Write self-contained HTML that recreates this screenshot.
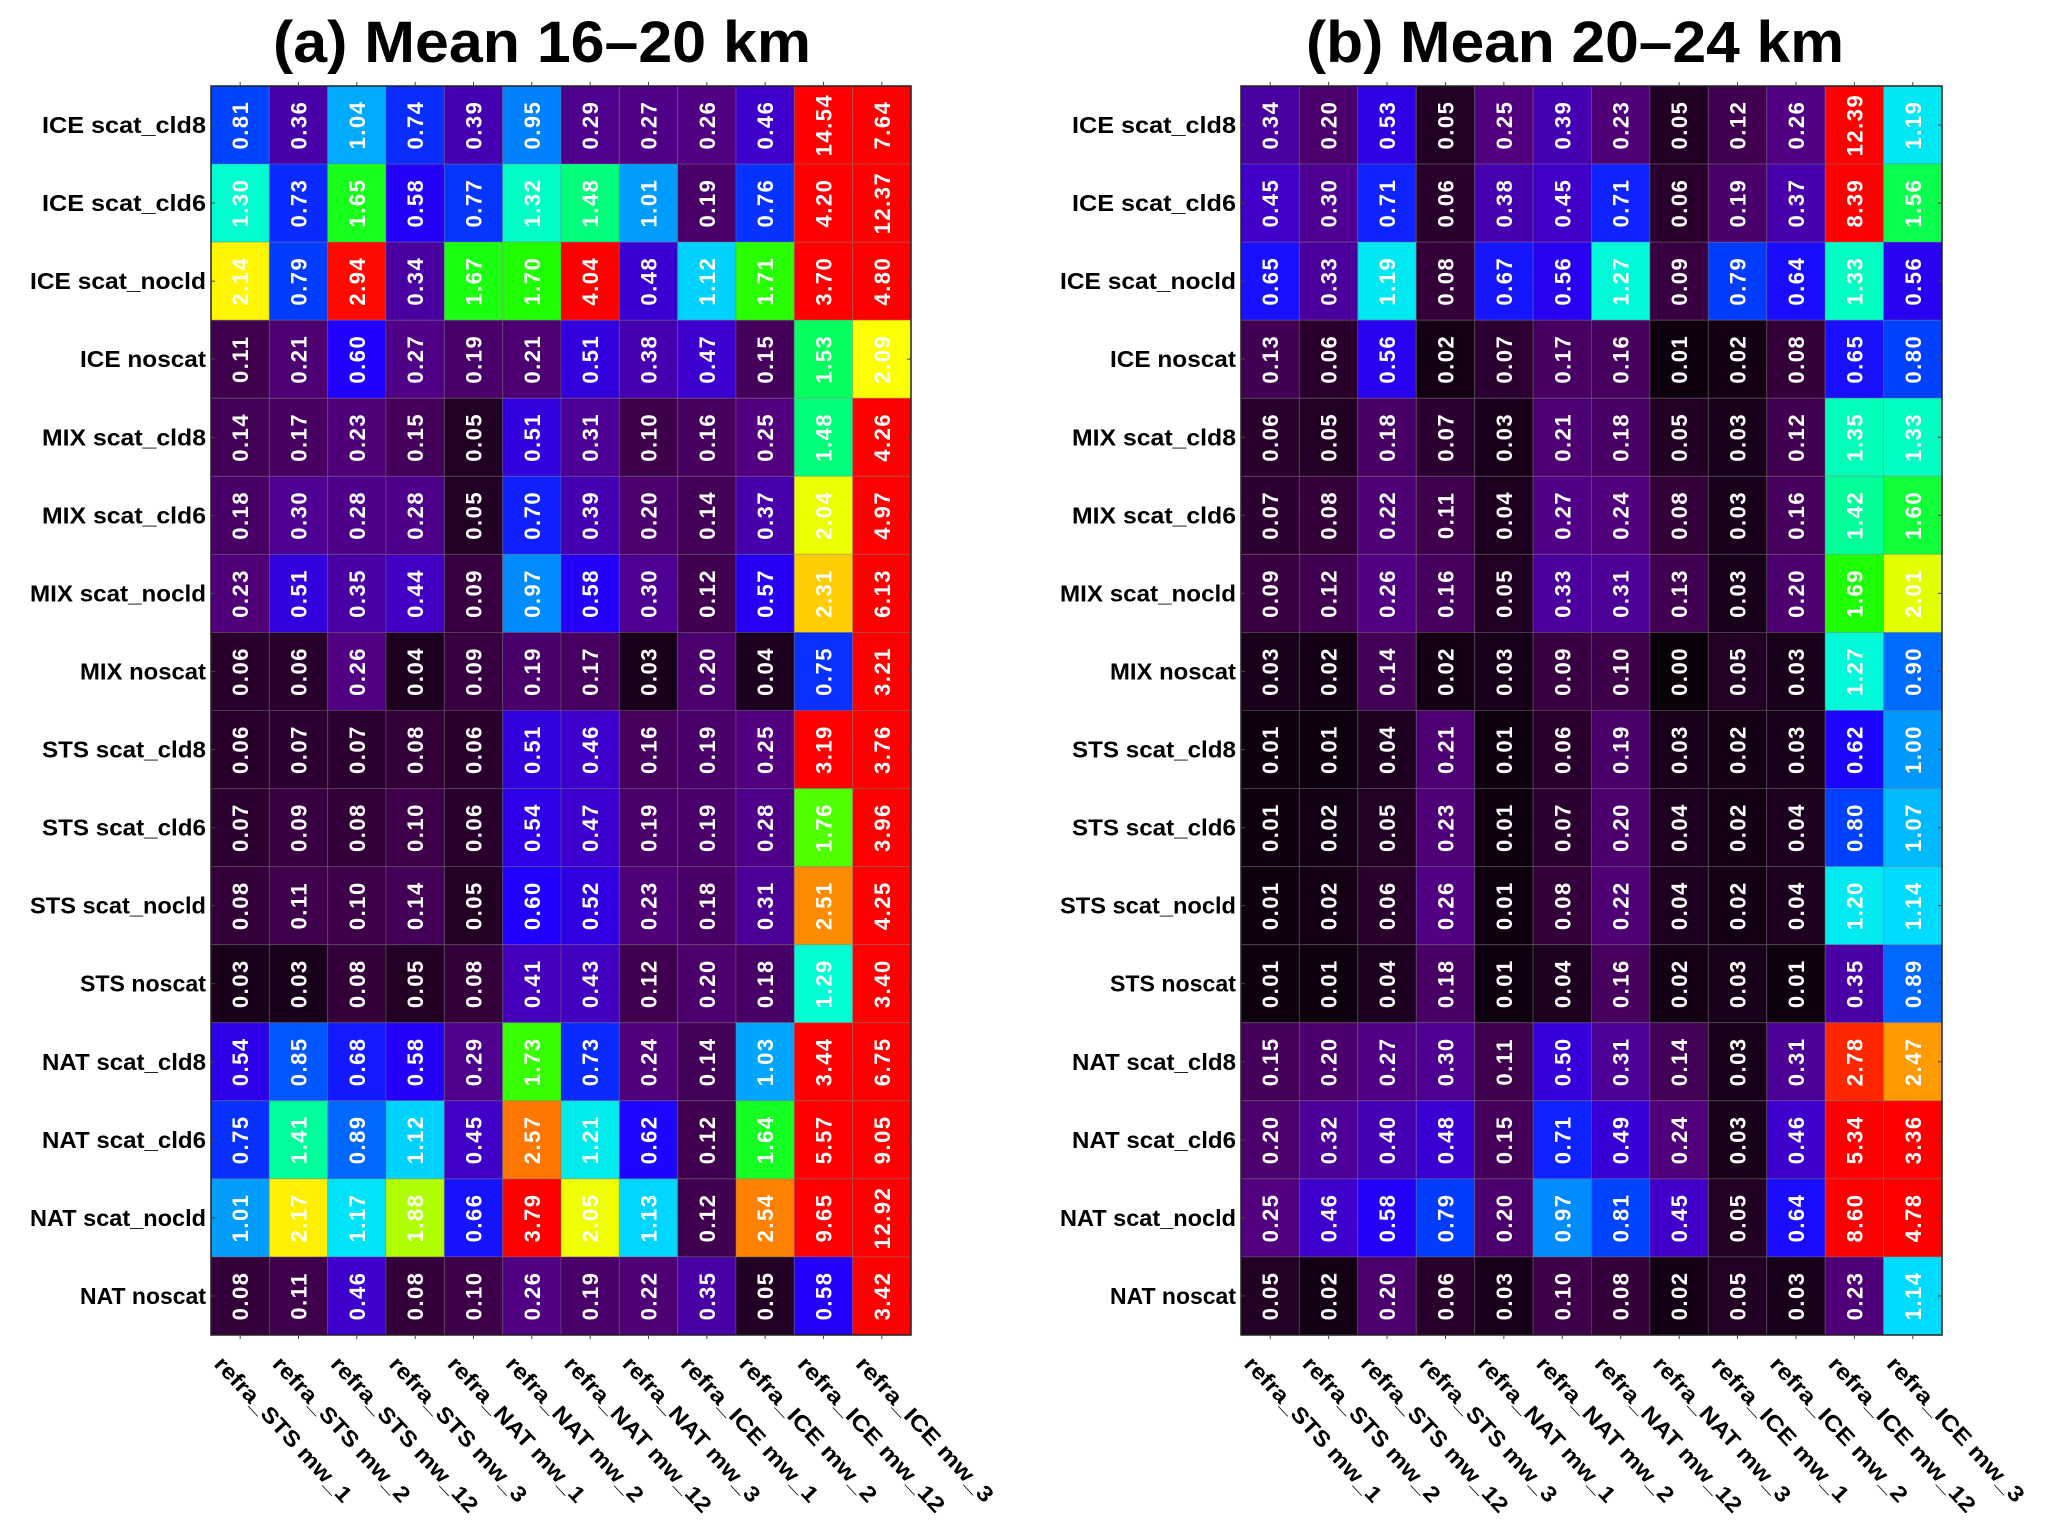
<!DOCTYPE html>
<html><head><meta charset="utf-8"><style>
html,body{margin:0;padding:0;background:#fff;}
svg{display:block;font-family:"Liberation Sans",Arial,sans-serif;}
</style></head><body>
<svg id="chart" width="2067" height="1530" viewBox="0 0 2067 1530"></svg>
<script>
const rowLabels = ["ICE scat_cld8","ICE scat_cld6","ICE scat_nocld","ICE noscat","MIX scat_cld8","MIX scat_cld6","MIX scat_nocld","MIX noscat","STS scat_cld8","STS scat_cld6","STS scat_nocld","STS noscat","NAT scat_cld8","NAT scat_cld6","NAT scat_nocld","NAT noscat"];
const colLabels = ["refra_STS mw_1","refra_STS mw_2","refra_STS mw_12","refra_STS mw_3","refra_NAT mw_1","refra_NAT mw_2","refra_NAT mw_12","refra_NAT mw_3","refra_ICE mw_1","refra_ICE mw_2","refra_ICE mw_12","refra_ICE mw_3"];
const valuesA = [
[0.81,0.36,1.04,0.74,0.39,0.95,0.29,0.27,0.26,0.46,14.54,7.64],
[1.30,0.73,1.65,0.58,0.77,1.32,1.48,1.01,0.19,0.76,4.20,12.37],
[2.14,0.79,2.94,0.34,1.67,1.70,4.04,0.48,1.12,1.71,3.70,4.80],
[0.11,0.21,0.60,0.27,0.19,0.21,0.51,0.38,0.47,0.15,1.53,2.09],
[0.14,0.17,0.23,0.15,0.05,0.51,0.31,0.10,0.16,0.25,1.48,4.26],
[0.18,0.30,0.28,0.28,0.05,0.70,0.39,0.20,0.14,0.37,2.04,4.97],
[0.23,0.51,0.35,0.44,0.09,0.97,0.58,0.30,0.12,0.57,2.31,6.13],
[0.06,0.06,0.26,0.04,0.09,0.19,0.17,0.03,0.20,0.04,0.75,3.21],
[0.06,0.07,0.07,0.08,0.06,0.51,0.46,0.16,0.19,0.25,3.19,3.76],
[0.07,0.09,0.08,0.10,0.06,0.54,0.47,0.19,0.19,0.28,1.76,3.96],
[0.08,0.11,0.10,0.14,0.05,0.60,0.52,0.23,0.18,0.31,2.51,4.25],
[0.03,0.03,0.08,0.05,0.08,0.41,0.43,0.12,0.20,0.18,1.29,3.40],
[0.54,0.85,0.68,0.58,0.29,1.73,0.73,0.24,0.14,1.03,3.44,6.75],
[0.75,1.41,0.89,1.12,0.45,2.57,1.21,0.62,0.12,1.64,5.57,9.05],
[1.01,2.17,1.17,1.88,0.66,3.79,2.05,1.13,0.12,2.54,9.65,12.92],
[0.08,0.11,0.46,0.08,0.10,0.26,0.19,0.22,0.35,0.05,0.58,3.42]];
const valuesB = [
[0.34,0.20,0.53,0.05,0.25,0.39,0.23,0.05,0.12,0.26,12.39,1.19],
[0.45,0.30,0.71,0.06,0.38,0.45,0.71,0.06,0.19,0.37,8.39,1.56],
[0.65,0.33,1.19,0.08,0.67,0.56,1.27,0.09,0.79,0.64,1.33,0.56],
[0.13,0.06,0.56,0.02,0.07,0.17,0.16,0.01,0.02,0.08,0.65,0.80],
[0.06,0.05,0.18,0.07,0.03,0.21,0.18,0.05,0.03,0.12,1.35,1.33],
[0.07,0.08,0.22,0.11,0.04,0.27,0.24,0.08,0.03,0.16,1.42,1.60],
[0.09,0.12,0.26,0.16,0.05,0.33,0.31,0.13,0.03,0.20,1.69,2.01],
[0.03,0.02,0.14,0.02,0.03,0.09,0.10,0.00,0.05,0.03,1.27,0.90],
[0.01,0.01,0.04,0.21,0.01,0.06,0.19,0.03,0.02,0.03,0.62,1.00],
[0.01,0.02,0.05,0.23,0.01,0.07,0.20,0.04,0.02,0.04,0.80,1.07],
[0.01,0.02,0.06,0.26,0.01,0.08,0.22,0.04,0.02,0.04,1.20,1.14],
[0.01,0.01,0.04,0.18,0.01,0.04,0.16,0.02,0.03,0.01,0.35,0.89],
[0.15,0.20,0.27,0.30,0.11,0.50,0.31,0.14,0.03,0.31,2.78,2.47],
[0.20,0.32,0.40,0.48,0.15,0.71,0.49,0.24,0.03,0.46,5.34,3.36],
[0.25,0.46,0.58,0.79,0.20,0.97,0.81,0.45,0.05,0.64,8.60,4.78],
[0.05,0.02,0.20,0.06,0.03,0.10,0.08,0.02,0.05,0.03,0.23,1.14]];
const titles = ["(a) Mean 16–20 km","(b) Mean 20–24 km"];

const cmapV = [0,0.05,0.1,0.25,0.45,0.6,0.8,1.0,1.15,1.3,1.5,1.7,1.9,2.1,2.3,2.5,2.8,3.0];
const cmapC = ["#0a000a","#220024","#3e0048","#520080","#4000c8","#2000ff","#0040ff","#0098ff","#00e0ff","#00ffd0","#00ff70","#20ff00","#c0ff00","#ffff00","#ffd000","#ff9000","#ff2000","#ff0000"];
function hex(c){return [1,3,5].map(i=>parseInt(c.substr(i,2),16));}
function color(v){
  if(v>=cmapV[cmapV.length-1]) return cmapC[cmapC.length-1];
  for(let i=0;i<cmapV.length-1;i++){
    if(v<=cmapV[i+1]){const t=(v-cmapV[i])/(cmapV[i+1]-cmapV[i]);const a=hex(cmapC[i]),b=hex(cmapC[i+1]);
      return "rgb("+a.map((x,k)=>Math.round(x+(b[k]-x)*t)).join(",")+")";}
  }
}
const NS="http://www.w3.org/2000/svg";
const svg=document.getElementById("chart");
function mk(tag,attrs,parent){const e=document.createElementNS(NS,tag);for(const k in attrs)e.setAttribute(k,attrs[k]);(parent||svg).appendChild(e);return e;}

const panels=[{left:211,right:911,data:valuesA,title:titles[0],tcx:542,id:"a"},{left:1241,right:1942,data:valuesB,title:titles[1],tcx:1575,id:"b"}];
const plotTop=86,plotBottom=1335;
panels.forEach(p=>{
  const g=mk("g",{});
  
  
  const cw=(p.right-p.left)/colLabels.length, rh=(plotBottom-plotTop)/rowLabels.length;
  const xS=j=>p.left+j*cw, yS=i=>plotTop+i*rh;
  const t=mk("text",{x:p.tcx,y:62,"text-anchor":"middle","font-size":58,"font-weight":"bold",textLength:538,lengthAdjust:"spacingAndGlyphs"},g);
  t.textContent=p.title;
  
  
  p.data.forEach((row,i)=>{
    row.forEach((v,j)=>{
      const r=mk("rect",{x:xS(j),y:yS(i),width:cw,height:rh,fill:color(v),stroke:"rgba(120,120,120,0.35)","stroke-width":1},g);
      
      
      const cx=xS(j)+cw/2, cy=yS(i)+rh/2;
      const tx=mk("text",{x:0,y:0,transform:`translate(${cx+8},${cy}) rotate(-90)`,"text-anchor":"middle",fill:"#fff","font-size":22,"font-weight":"bold","letter-spacing":"1.5"},g);
      tx.textContent=v.toFixed(2);
      
      
    });
  });
  const b=mk("rect",{x:p.left,y:plotTop,width:p.right-p.left,height:plotBottom-plotTop,fill:"none",stroke:"#222","stroke-width":1.5},g);
  
  
  rowLabels.forEach((l,i)=>{
    const w=l.length*12.6;
    const tx=mk("text",{x:p.left-5,y:yS(i)+rh/2+8,"text-anchor":"end","font-size":23,"font-weight":"bold",textLength:Math.round(w),lengthAdjust:"spacingAndGlyphs"},g);
    tx.textContent=l;
    
    
    mk("line",{x1:p.left,x2:p.left+4,y1:yS(i)+rh/2,y2:yS(i)+rh/2,stroke:"#444"},g);
    mk("line",{x1:p.right,x2:p.right-4,y1:yS(i)+rh/2,y2:yS(i)+rh/2,stroke:"#444"},g);
  });
  colLabels.forEach((l,j)=>{
    const sx=xS(j)+2, sy=plotBottom+30;
    const tx=mk("text",{x:0,y:0,transform:`translate(${sx},${sy}) rotate(47)`,"text-anchor":"start","font-size":22,"font-weight":"bold",textLength:Math.round(l.length*13.6),lengthAdjust:"spacingAndGlyphs"},g);
    tx.textContent=l;
    
    
    mk("line",{x1:xS(j)+cw/2,x2:xS(j)+cw/2,y1:plotBottom,y2:plotBottom+4,stroke:"#444"},g);
    mk("line",{x1:xS(j)+cw/2,x2:xS(j)+cw/2,y1:plotTop,y2:plotTop-4,stroke:"#444"},g);
  });
});
</script>
</body></html>
